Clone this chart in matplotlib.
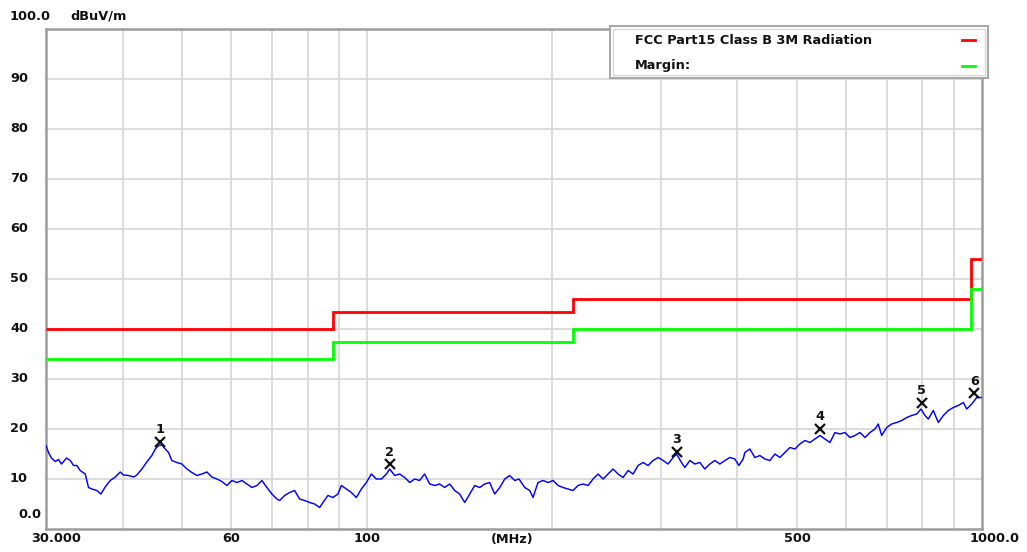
import matplotlib
matplotlib.use("Agg")
import matplotlib.pyplot as plt
from matplotlib.patches import Rectangle
from matplotlib.lines import Line2D
from matplotlib.ticker import NullLocator
import matplotlib.transforms as mtransforms

# ---------------- data ----------------
trace_freq = [
    30.00, 30.28, 30.62, 31.05, 31.44, 31.79, 32.40, 32.85, 33.26, 33.67,
    34.10, 34.75, 35.18, 35.62, 36.29, 36.84, 37.45, 38.16, 38.89, 39.62,
    40.11, 40.87, 41.65, 42.16, 42.96, 43.77, 44.60, 45.17, 45.74, 46.31,
    46.90, 47.48, 48.07, 48.98, 49.91, 50.86, 51.82, 52.80, 53.80, 54.81,
    55.85, 56.91, 57.98, 59.08, 60.20, 61.34, 62.50, 63.68, 64.88, 66.11,
    67.36, 68.64, 69.93, 71.26, 71.98, 73.34, 74.73, 76.14, 77.58, 79.05,
    80.55, 82.07, 83.62, 84.67, 86.27, 87.90, 89.56, 90.71, 92.43, 94.18,
    95.96, 97.77, 99.62, 101.5, 103.4, 105.4, 107.4, 108.7, 110.8, 112.9,
    115.0, 117.2, 119.4, 121.6, 123.9, 126.3, 128.7, 131.1, 133.6, 136.1,
    138.7, 141.3, 144.0, 146.7, 149.5, 152.3, 155.2, 158.1, 161.1, 164.2,
    167.3, 170.4, 173.7, 176.5, 180.3, 183.7, 186.0, 189.5, 193.1, 196.8,
    200.5, 204.3, 208.1, 212.1, 216.1, 220.2, 224.3, 228.6, 232.9, 237.3,
    241.8, 246.4, 251.0, 255.8, 260.6, 265.6, 270.6, 275.7, 280.9, 286.2,
    291.7, 297.2, 302.8, 308.5, 314.4, 318.4, 324.4, 328.5, 334.7, 341.0,
    347.5, 354.0, 360.7, 367.6, 374.5, 381.6, 388.8, 396.2, 402.2, 408.7,
    411.3, 419.1, 427.0, 435.1, 443.3, 451.7, 460.3, 469.0, 477.9, 486.9,
    496.1, 505.5, 515.1, 524.8, 534.8, 544.9, 555.2, 565.7, 576.4, 587.3,
    598.4, 609.7, 621.3, 633.0, 645.0, 657.2, 669.7, 678.0, 686.7, 699.7,
    712.9, 726.4, 740.2, 754.2, 768.4, 783.0, 795.7, 807.7, 817.8, 833.2,
    849.0, 865.1, 881.4, 898.1, 915.1, 932.4, 944.4, 962.3, 980.5, 1000.0,
]
trace_level = [
    16.7, 15.3, 14.2, 13.5, 13.9, 13.0, 14.2, 13.7, 12.7, 12.7,
    11.7, 11.0, 8.3, 8.0, 7.7, 7.0, 8.4, 9.7, 10.4, 11.4,
    10.8, 10.7, 10.4, 10.8, 12.0, 13.4, 14.7, 16.0, 16.7, 16.8,
    16.0, 15.3, 13.7, 13.3, 13.0, 12.0, 11.3, 10.7, 11.0, 11.4,
    10.4, 10.0, 9.5, 8.7, 9.7, 9.3, 9.7, 9.0, 8.3, 8.7,
    9.7, 8.3, 7.0, 6.0, 5.7, 6.7, 7.3, 7.7, 6.0, 5.7,
    5.3, 5.0, 4.3, 5.3, 6.7, 6.3, 7.0, 8.7, 8.0, 7.3,
    6.3, 8.0, 9.3, 11.0, 10.0, 10.0, 11.0, 12.0, 10.7, 11.0,
    10.3, 9.3, 10.0, 9.7, 11.0, 9.0, 8.7, 9.0, 8.3, 9.0,
    7.7, 7.0, 5.3, 7.0, 8.7, 8.3, 9.0, 9.3, 7.0, 8.3,
    10.0, 10.7, 9.7, 10.0, 8.3, 7.7, 6.3, 9.3, 9.7, 9.3,
    9.7, 8.7, 8.3, 8.0, 7.7, 8.7, 9.0, 8.7, 10.0, 11.0,
    10.0, 11.0, 12.0, 11.0, 10.3, 11.7, 11.0, 12.7, 13.3, 12.7,
    13.7, 14.3, 13.7, 13.0, 14.3, 15.0, 13.3, 12.3, 13.7, 13.0,
    13.3, 12.0, 13.0, 13.7, 13.0, 13.7, 14.3, 14.0, 12.7, 14.0,
    15.3, 16.0, 14.3, 14.7, 14.0, 13.7, 15.0, 14.3, 15.3, 16.3,
    16.0, 17.0, 17.7, 17.3, 18.0, 18.7, 18.0, 17.3, 19.3, 19.0,
    19.3, 18.3, 18.7, 19.3, 18.3, 19.3, 20.0, 21.0, 18.7, 20.3,
    21.0, 21.3, 21.7, 22.3, 22.7, 23.0, 24.0, 22.7, 22.0, 23.7,
    21.3, 22.7, 23.7, 24.3, 24.7, 25.3, 24.0, 25.0, 26.3, 26.3,
]

limit_edges = [30, 88, 216, 960, 1000]
limit_levels = [40, 43.5, 46, 54]
margin_levels = [34, 37.5, 40, 48]

marker_freq = [46.0, 108.7, 318.4, 544.9, 797.5, 971.8]
marker_level = [17.5, 13.0, 15.5, 20.1, 25.3, 27.2]
marker_labels = ["1", "2", "3", "4", "5", "6"]

grid_freq = [40, 50, 60, 70, 80, 90, 100, 200, 300, 400, 500, 600, 700, 800, 900]
xtick_vals = [60, 100, 500]
xtick_text = ["60", "100", "500"]
ytick_vals = [90, 80, 70, 60, 50, 40, 30, 20, 10]
legend_names = ["FCC Part15 Class B 3M Radiation", "Margin:"]

# ---------------- figure ----------------
W, H = 1027, 552
fig = plt.figure(figsize=(W / 100, H / 100), dpi=100)
fig.patch.set_facecolor("white")
ax = fig.add_axes([46 / W, 1 - 529 / H, (982 - 46) / W, (529 - 29) / H])
ax.set_xscale("log")
ax.set_xlim(30, 1000)
ax.set_ylim(0, 100)
ax.set_xticks(grid_freq)
ax.xaxis.set_minor_locator(NullLocator())
ax.set_xticklabels([])
ax.set_yticks(ytick_vals)
ax.set_yticklabels([])
ax.tick_params(length=0)
ax.grid(True, color="#d6d6d6", lw=1.2)
ax.set_axisbelow(True)
for s in ax.spines.values():
    s.set_color("#9c9c9c")
    s.set_linewidth(1.8)

txt = dict(family="DejaVu Sans", weight="bold", size=9.3, color="#111111")

def F(x, y):
    return (x / W, 1 - y / H)

# limit lines
ax.stairs(limit_levels, limit_edges, baseline=None, color="#ff0000", lw=2.0, zorder=3)
ax.stairs(margin_levels, limit_edges, baseline=None, color="#00ff00", lw=2.0, zorder=3)

# trace
ax.plot(trace_freq, trace_level, color="#0000ff", lw=1.05, zorder=4)

# markers
ax.plot(marker_freq, marker_level, ls="none", marker="x", ms=7.5, mew=1.6,
        color="#111111", zorder=5)
for f, v, lab in zip(marker_freq, marker_level, marker_labels):
    ax.annotate(lab, (f, v), xytext=(0, 8.5), textcoords="offset points",
                ha="center", va="center", zorder=6, **txt)

# y labels
for v in ytick_vals:
    x0, y0 = F(10, 529 - 5 * v)
    fig.text(x0, y0, str(v), ha="left", va="center", **txt)
fig.text(*F(10, 16), "100.0", ha="left", va="center", **txt)
fig.text(*F(70, 16), "dBuV/m", ha="left", va="center", **txt)
fig.text(*F(18, 515), "0.0", ha="left", va="center", **txt)

# x labels
blend = mtransforms.blended_transform_factory(ax.transData, fig.transFigure)
for v, t in zip(xtick_vals, xtick_text):
    ax.text(v, 1 - 539 / H, t, transform=blend, ha="center", va="center", **txt)
fig.text(*F(31, 539), "30.000", ha="left", va="center", **txt)
fig.text(*F(1020, 539), "1000.0", ha="right", va="center", **txt)
fig.text(*F(512, 539), "(MHz)", ha="center", va="center", **txt)

# legend box
fig.patches.append(Rectangle(F(610, 78), 378 / W, 52 / H, transform=fig.transFigure,
                             facecolor="white", edgecolor="#a8a8a8", lw=1.5, zorder=10))
fig.patches.append(Rectangle(F(613, 75), 372 / W, 46 / H, transform=fig.transFigure,
                             facecolor="none", edgecolor="#d8d8d8", lw=1.0, zorder=10))
leg_colors = ["#ff0000", "#00ff00"]
for i, (name, c) in enumerate(zip(legend_names, leg_colors)):
    yy = 40 + 26 * i
    fig.text(*F(635, yy), name, ha="left", va="center", zorder=11, **txt)
    fig.lines.append(Line2D([962 / W, 975 / W], [1 - yy / H, 1 - yy / H],
                            transform=fig.transFigure, color=c, lw=2.0, zorder=11))

fig.savefig("out.png", dpi=100, facecolor="white")
